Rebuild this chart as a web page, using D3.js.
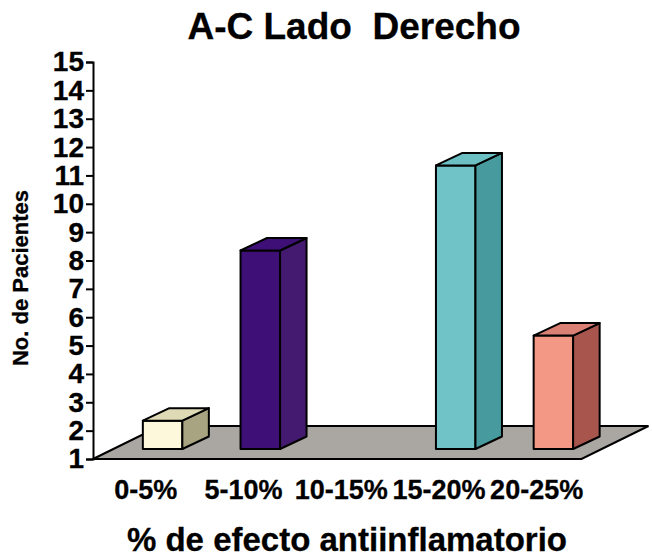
<!DOCTYPE html>
<html>
<head>
<meta charset="utf-8">
<script src="https://cdn.jsdelivr.net/npm/d3@7"></script>
<style>
    html, body { margin: 0; padding: 0; background: #fff; }
    svg { display: block; }
    text { font-family: "Liberation Sans", Arial, sans-serif; font-weight: bold; fill: #000; stroke: #000; stroke-width: 0.3px; }
    .y-axis text { font-size: 28px; }
    .x-axis text { font-size: 27px; }
    .domain, .tick line { stroke: #000; stroke-width: 2px; }
</style>
</head>
<body>
<div id="chart-container"></div>
<script>
const categories = ["0-5%", "5-10%", "10-15%", "15-20%", "20-25%"];
const values = [2, 8, 1, 11, 5];
const yTicks = [1, 2, 3, 4, 5, 6, 7, 8, 9, 10, 11, 12, 13, 14, 15];
const frontColors = ["#fdf8dc", "#3f0f78", "#000000", "#70c3c7", "#f49886"];
const sideColors = ["#a8a380", "#431a70", "#000000", "#479b9e", "#a8554e"];
const topColors = ["#dedab5", "#3f0f78", "#000000", "#6cc0c4", "#db8074"];

const width = 652;
const height = 556;

const svg = d3.select("#chart-container")
    .append("svg")
    .attr("width", width)
    .attr("height", height);

const x = d3.scaleBand()
    .domain(categories)
    .range([97, 585.5]);

const y = d3.scaleLinear()
    .domain([1, 15])
    .range([459, 62]);

const xLeft = 93, xRight = 581.5;
const floorDx = 67, floorDy = -33;   // profundidad del piso
const barDx = 26.5, barDy = -12.5;   // profundidad de cada barra
const barLift = -10;                 // las barras arrancan un poco adentro del piso
const barWidth = 39.5;

// Piso
svg.append("path")
    .attr("d", d3.line()([
        [xLeft, y(1)],
        [xLeft + floorDx, y(1) + floorDy],
        [xRight + floorDx, y(1) + floorDy],
        [xRight, y(1)]
    ]) + "Z")
    .attr("fill", "#aaa6a2")
    .attr("stroke", "#000")
    .attr("stroke-width", 2);

// Barras: solo las que superan la base
const bars = svg.append("g")
    .selectAll("g")
    .data(categories.map((c, i) => ({ c, v: values[i], i })).filter(d => d.v > 1))
    .join("g")
    .attr("stroke", "#000")
    .attr("stroke-width", 2)
    .attr("stroke-linejoin", "round");

const barX = d => x(d.c) + x.bandwidth() / 2 - 3;
const barTop = d => y(d.v) + barLift;
const barBottom = y(1) + barLift;

bars.append("rect")
    .attr("x", barX)
    .attr("y", barTop)
    .attr("width", barWidth)
    .attr("height", d => barBottom - barTop(d))
    .attr("fill", d => frontColors[d.i]);

bars.append("path")
    .attr("fill", d => sideColors[d.i])
    .attr("d", d => {
        const r = barX(d) + barWidth;
        return d3.line()([
            [r, barTop(d)],
            [r + barDx, barTop(d) + barDy],
            [r + barDx, barBottom + barDy],
            [r, barBottom]
        ]) + "Z";
    });

bars.append("path")
    .attr("fill", d => topColors[d.i])
    .attr("d", d => {
        const l = barX(d);
        return d3.line()([
            [l, barTop(d)],
            [l + barDx, barTop(d) + barDy],
            [l + barWidth + barDx, barTop(d) + barDy],
            [l + barWidth, barTop(d)]
        ]) + "Z";
    });

// Ejes
svg.append("g")
    .attr("class", "y-axis")
    .attr("transform", `translate(${xLeft},0)`)
    .call(d3.axisLeft(y).tickValues(yTicks).tickFormat(d3.format("d")).tickSize(7).tickSizeOuter(7).tickPadding(2));

svg.append("g")
    .attr("class", "x-axis")
    .attr("transform", "translate(0,468)")
    .call(d3.axisBottom(x).tickSize(0).tickPadding(12))
    .call(g => g.select(".domain").remove());

// Textos
svg.append("text")
    .attr("x", 354)
    .attr("y", 39)
    .attr("text-anchor", "middle")
    .attr("font-size", 37)
    .style("white-space", "pre")
    .text("A-C Lado  Derecho");

svg.append("text")
    .attr("x", 347)
    .attr("y", 551)
    .attr("text-anchor", "middle")
    .attr("font-size", 33)
    .text("% de efecto antiinflamatorio");

svg.append("text")
    .attr("transform", "translate(28,278) rotate(-90)")
    .attr("text-anchor", "middle")
    .attr("font-size", 22)
    .text("No. de Pacientes");
</script>
</body>
</html>
